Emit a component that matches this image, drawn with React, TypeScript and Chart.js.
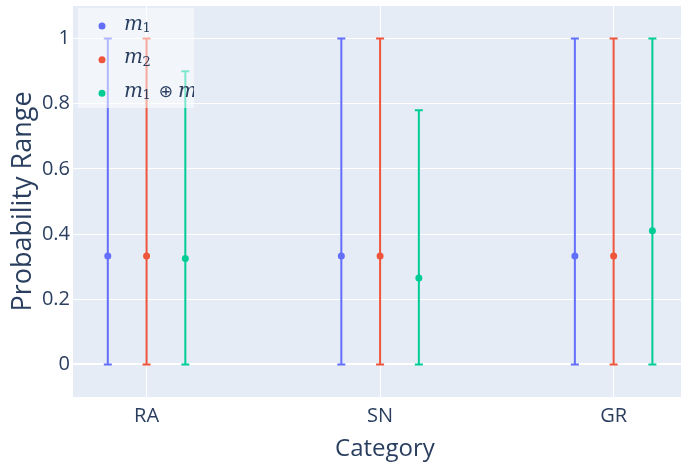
import React, { useEffect, useRef } from "react";
import { Chart, registerables } from "chart.js";

Chart.register(...registerables);

const categories = ["RA", "SN", "GR"];
const seriesNames = ["m1", "m2", "m1 ⊕ m2"];
const m1Values = [0.333, 0.333, 0.333];
const m1Low = [0, 0, 0];
const m1High = [1, 1, 1];
const m2Values = [0.333, 0.333, 0.333];
const m2Low = [0, 0, 0];
const m2High = [1, 1, 1];
const m3Values = [0.325, 0.265, 0.41];
const m3Low = [0, 0, 0];
const m3High = [0.9, 0.78, 1];
const yTicks = [0, 0.2, 0.4, 0.6, 0.8, 1];

const colors = ["#636efa", "#EF553B", "#00cc96"];
const groupOffset = 0.166;
const textColor = "#2a3f5f";

const series = [
  { vals: m1Values, lo: m1Low, hi: m1High },
  { vals: m2Values, lo: m2Low, hi: m2High },
  { vals: m3Values, lo: m3Low, hi: m3High },
];

const bgPlugin = {
  id: "plotBg",
  beforeDraw(chart: any) {
    const { ctx, chartArea: a } = chart;
    ctx.save();
    ctx.fillStyle = "#E5ECF6";
    ctx.fillRect(a.left, a.top, a.right - a.left, a.bottom - a.top);
    ctx.restore();
  },
};

const errPlugin = {
  id: "errBars",
  beforeDatasetsDraw(chart: any) {
    const { ctx } = chart;
    const xs = chart.scales.x;
    const ys = chart.scales.y;
    ctx.save();
    chart.data.datasets.forEach((ds: any) => {
      ctx.strokeStyle = ds.borderColor;
      ctx.lineWidth = 2;
      ds.data.forEach((p: any) => {
        const x = xs.getPixelForValue(p.x);
        const y1 = ys.getPixelForValue(p.lo);
        const y2 = ys.getPixelForValue(p.hi);
        ctx.beginPath();
        ctx.moveTo(x, y1);
        ctx.lineTo(x, y2);
        ctx.moveTo(x - 4, y1);
        ctx.lineTo(x + 4, y1);
        ctx.moveTo(x - 4, y2);
        ctx.lineTo(x + 4, y2);
        ctx.stroke();
      });
    });
    ctx.restore();
  },
};

const legendPlugin = {
  id: "mathLegend",
  afterDraw(chart: any) {
    const { ctx, chartArea: a } = chart;
    const bx = a.left + 5;
    const by = a.top + 2;
    const bw = 116;
    const bh = 100;
    ctx.save();
    ctx.fillStyle = "rgba(255,255,255,0.5)";
    ctx.fillRect(bx, by, bw, bh);
    ctx.beginPath();
    ctx.rect(bx, by, bw, bh);
    ctx.clip();
    const rowY = [18, 51.7, 85.3];
    const italic = "italic 20px 'DejaVu Serif', serif";
    const sub = "13px 'DejaVu Serif', serif";
    const op = "17px 'DejaVu Sans', sans-serif";
    rowY.forEach((ry, i) => {
      const cy = by + ry;
      ctx.fillStyle = colors[i];
      ctx.beginPath();
      ctx.arc(bx + 24, cy, 3.5, 0, Math.PI * 2);
      ctx.fill();
      ctx.fillStyle = textColor;
      ctx.textBaseline = "alphabetic";
      ctx.textAlign = "left";
      const base = cy + 3.5;
      let x = bx + 46;
      const drawM = (subTxt: string) => {
        ctx.font = italic;
        ctx.fillText("m", x, base);
        x += ctx.measureText("m").width - 0.5;
        ctx.font = sub;
        ctx.fillText(subTxt, x, base + 2.5);
        x += ctx.measureText(subTxt).width;
      };
      const name = seriesNames[i];
      if (i < 2) {
        drawM(name.slice(1));
      } else {
        drawM("1");
        x += 8;
        ctx.font = op;
        ctx.fillText("⊕", x, base);
        x += ctx.measureText("⊕").width + 5;
        drawM("2");
      }
    });
    ctx.restore();
  },
};

export default function App() {
  const ref = useRef<HTMLCanvasElement>(null);
  useEffect(() => {
    if (!ref.current) return;
    const datasets = series.map((s, si) => ({
      label: seriesNames[si],
      data: s.vals.map((v, i) => ({
        x: i + (si - 1) * groupOffset,
        y: v,
        lo: s.lo[i],
        hi: s.hi[i],
      })),
      backgroundColor: colors[si],
      borderColor: colors[si],
      pointRadius: 3.5,
      pointBorderWidth: 0,
      showLine: false,
    }));
    const chart = new Chart(ref.current, {
      type: "scatter",
      data: { datasets },
      plugins: [bgPlugin, errPlugin, legendPlugin],
      options: {
        animation: false,
        responsive: false,
        layout: { padding: { top: 6, right: 0, left: 0, bottom: 0 } },
        plugins: { legend: { display: false }, tooltip: { enabled: false } },
        scales: {
          x: {
            type: "linear",
            min: -0.315,
            max: 2.357,
            afterBuildTicks: (s: any) => {
              s.ticks = categories.map((_, i) => ({ value: i }));
            },
            afterFit: (s: any) => {
              s.height = 71;
              s.paddingLeft = 0;
              s.paddingRight = 0;
            },
            ticks: {
              callback: (v: any) => categories[v] ?? "",
              font: { family: "'Open Sans'", size: 20 },
              color: textColor,
              padding: 7,
              maxRotation: 0,
            },
            grid: { color: "#ffffff", lineWidth: 1, drawTicks: false },
            border: { display: false },
            title: {
              display: true,
              text: "Category",
              font: { family: "'Open Sans'", size: 24 },
              color: textColor,
              padding: { top: 0, bottom: 4 },
            },
          },
          y: {
            min: -0.1,
            max: 1.1,
            afterBuildTicks: (s: any) => {
              s.ticks = yTicks.map((v) => ({ value: v }));
            },
            afterFit: (s: any) => {
              s.width = 73;
              s.paddingTop = 0;
              s.paddingBottom = 0;
            },
            ticks: {
              callback: (v: any) => (v === 0 ? "0" : v === 1 ? "1" : Number(v).toFixed(1)),
              font: { family: "'Open Sans'", size: 20 },
              color: textColor,
              padding: 3,
            },
            grid: {
              color: "#ffffff",
              lineWidth: (c: any) => (c.tick && c.tick.value === 0 ? 2 : 1),
              drawTicks: false,
            },
            border: { display: false },
            title: {
              display: true,
              text: "Probability Range",
              font: { family: "'Open Sans'", size: 27 },
              color: textColor,
              padding: { top: 7, bottom: 0 },
            },
          },
        },
      } as any,
    });
    return () => chart.destroy();
  }, []);
  return (
    <div style={{ position: "absolute", left: 0, top: 0, width: 681, height: 468, overflow: "hidden", background: "#fff" }}>
      <canvas ref={ref} width={701} height={468} style={{ display: "block" }} />
    </div>
  );
}
